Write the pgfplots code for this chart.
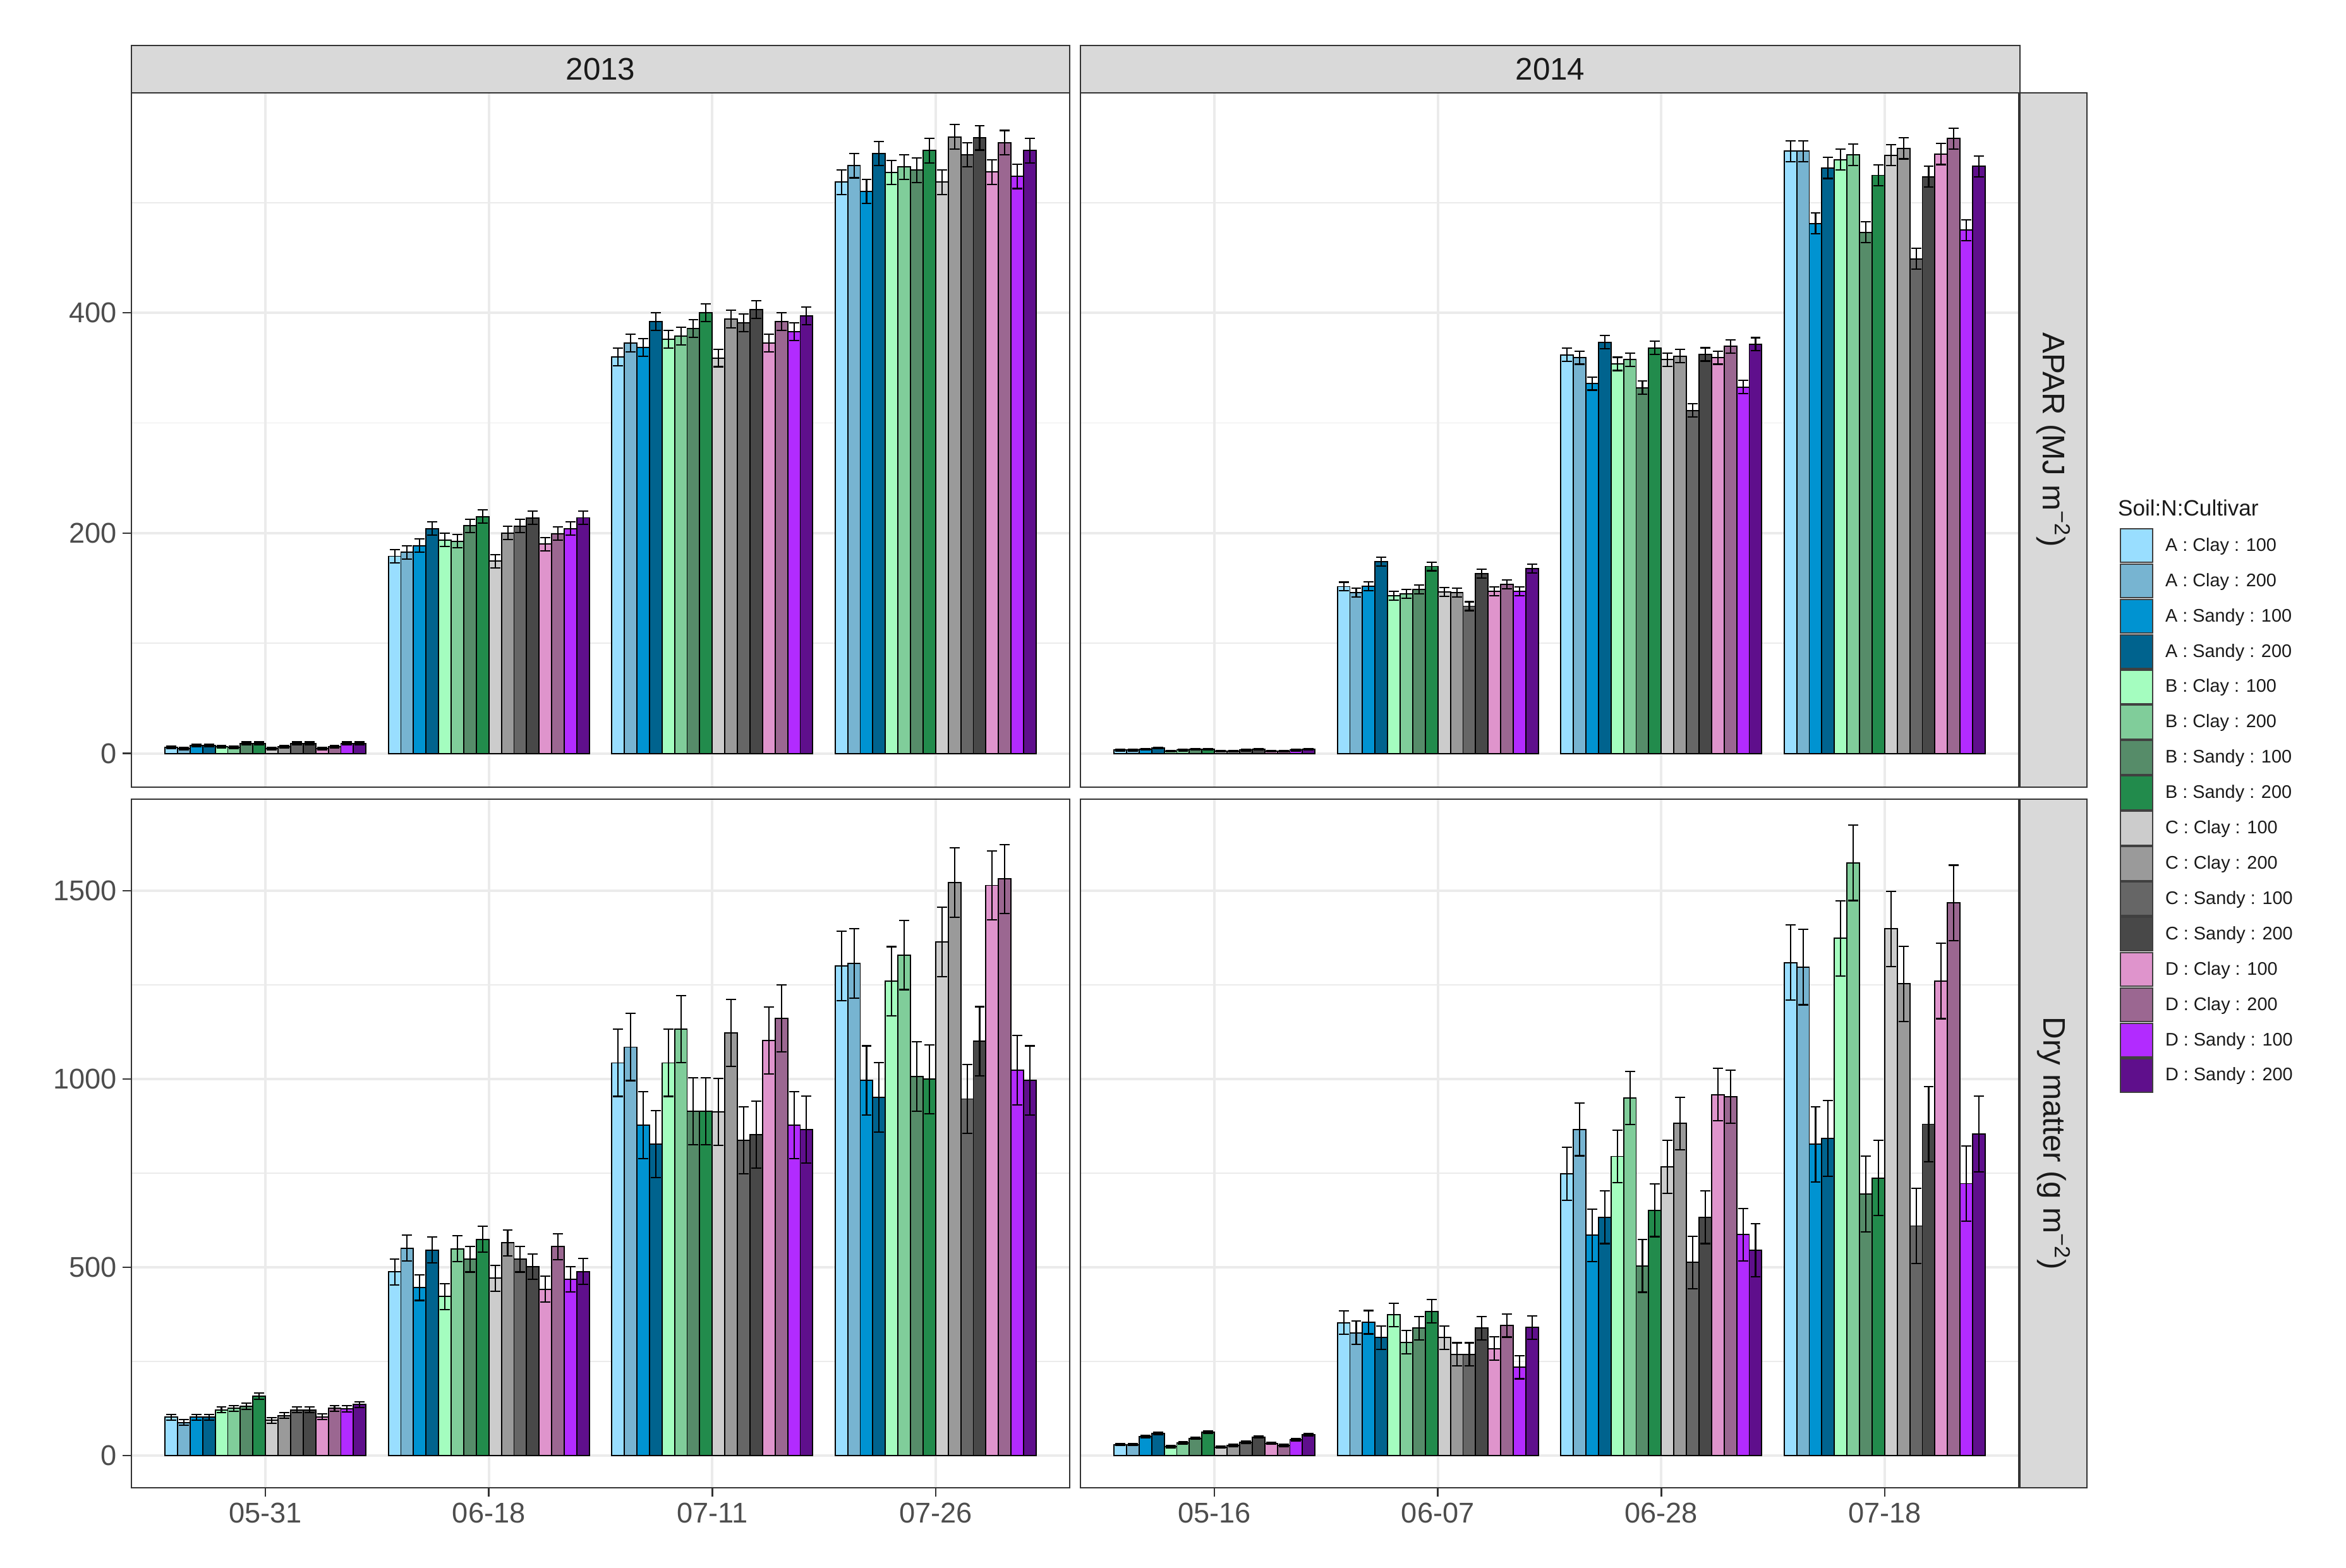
\documentclass[border=0pt]{standalone}
\usepackage{fontspec}
\setmainfont{Liberation Sans}
\usepackage{pgfplots}
\usepackage{pgfplotstable}
\pgfplotsset{compat=1.18}

\definecolor{c1}{HTML}{99DEFF}
\definecolor{c2}{HTML}{77B4D1}
\definecolor{c3}{HTML}{0093D1}
\definecolor{c4}{HTML}{00638E}
\definecolor{c5}{HTML}{A4FDBF}
\definecolor{c6}{HTML}{80CD9A}
\definecolor{c7}{HTML}{568C69}
\definecolor{c8}{HTML}{228B4C}
\definecolor{c9}{HTML}{CCCCCC}
\definecolor{c10}{HTML}{9A9A9A}
\definecolor{c11}{HTML}{666666}
\definecolor{c12}{HTML}{484848}
\definecolor{c13}{HTML}{DF94CC}
\definecolor{c14}{HTML}{9B6791}
\definecolor{c15}{HTML}{B22BFF}
\definecolor{c16}{HTML}{5F0F8C}
\definecolor{grey10}{HTML}{1A1A1A}
\definecolor{grey20}{HTML}{333333}
\definecolor{grey30}{HTML}{4D4D4D}
\definecolor{grey85}{HTML}{D9D9D9}
\definecolor{grey92}{HTML}{EBEBEB}

% APAR 2013
\pgfplotstableread{
g m1 m2 m3 m4 m5 m6 m7 m8 m9 m10 m11 m12 m13 m14 m15 m16 e1 e2 e3 e4 e5 e6 e7 e8 e9 e10 e11 e12 e13 e14 e15 e16
1 5.4 4.4 7.3 7.3 6.3 5.4 9.2 9.2 4.4 6.3 9.2 9.2 4.4 6.3 9.2 9.2 1.2 1.2 1.2 1.2 1.2 1.2 1.2 1.2 1.2 1.2 1.2 1.2 1.2 1.2 1.2 1.2
2 179.0 182.6 188.7 204.0 193.7 192.7 206.7 215.0 174.6 200.0 206.3 213.8 190.0 199.6 204.0 214.0 6 6 6 6 6 6 6 6 6 6 6 6 6 6 6 6
3 359.8 372.3 368.5 392.0 376.0 379.0 385.7 400.0 359.0 394.3 391.0 403.0 372.3 392.0 382.8 397.0 8 8 8 8 8 8 8 8 8 8 8 8 8 8 8 8
4 518.5 533.5 510.0 544.7 527.5 532.3 529.4 547.2 518.5 559.7 543.4 558.7 527.7 554.5 523.7 547.2 11 11 11 11 11 11 11 11 11 11 11 11 11 11 11 11
}\tabTL
% APAR 2014
\pgfplotstableread{
g m1 m2 m3 m4 m5 m6 m7 m8 m9 m10 m11 m12 m13 m14 m15 m16 e1 e2 e3 e4 e5 e6 e7 e8 e9 e10 e11 e12 e13 e14 e15 e16
1 3 3 4 5 2 3 4 4 2 2 3 4 2 2 3 4 0.6 0.6 0.6 0.6 0.6 0.6 0.6 0.6 0.6 0.6 0.6 0.6 0.6 0.6 0.6 0.6
2 151.5 146.0 151.7 174.0 143.3 144.8 149.0 169.8 146.7 146.0 133.7 163.0 147.0 153.3 147.0 168.0 4 4 4 4 4 4 4 4 4 4 4 4 4 4 4 4
3 361.8 359.3 335.8 373.3 353.6 357.4 332.0 368.0 357.4 360.7 311.4 362.2 359.3 369.5 332.5 371.4 6 6 6 6 6 6 6 6 6 6 6 6 6 6 6 6
4 546.7 546.7 481.0 531.4 539.0 543.4 473.0 524.8 542.9 549.2 449.0 523.5 544.0 558.2 475.0 532.9 9.5 9.5 9.5 9.5 9.5 9.5 9.5 9.5 9.5 9.5 9.5 9.5 9.5 9.5 9.5 9.5
}\tabTR
% Dry matter 2013
\pgfplotstableread{
g m1 m2 m3 m4 m5 m6 m7 m8 m9 m10 m11 m12 m13 m14 m15 m16 e1 e2 e3 e4 e5 e6 e7 e8 e9 e10 e11 e12 e13 e14 e15 e16
1 101.8 87.8 101.8 101.8 121.4 125.3 130.9 157.7 93.4 106.3 121.4 121.4 102.9 125.3 124.2 135.3 8 8 8 8 8 8 8 8 8 8 8 8 8 8 8 8
2 487.7 551.0 445.8 545.9 422.3 549.2 521.3 574.4 470.9 564.9 521.3 501.7 441.8 554.8 468.1 488.8 34 34 34 34 34 34 34 34 34 34 34 34 34 34 34 34
3 1042.7 1084.6 877.3 826.9 1042.7 1132.0 914.6 914.6 912.3 1122.0 837.0 851.7 1102.5 1160.7 877.3 865.7 89 89 89 89 89 89 89 89 89 89 89 89 89 89 89 89
4 1300.5 1306.7 996.0 951.0 1259.3 1329.2 1007.0 999.2 1364.0 1521.7 947.0 1100.0 1514.0 1531.0 1023.0 996.0 92 92 92 92 92 92 92 92 92 92 92 92 92 92 92 92
}\tabBL
% Dry matter 2014
\pgfplotstableread{
g m1 m2 m3 m4 m5 m6 m7 m8 m9 m10 m11 m12 m13 m14 m15 m16 e1 e2 e3 e4 e5 e6 e7 e8 e9 e10 e11 e12 e13 e14 e15 e16
1 29.2 29.2 50.6 59.0 23.6 33.7 46.0 61.8 22.5 27.0 34.8 49.4 32.6 27.0 42.1 55.0 3 3 3 3 3 3 3 3 3 3 3 3 3 3 3 3
2 352.8 325.8 354.0 313.5 373.6 300.6 338.2 383.1 313.5 268.5 268.5 338.2 283.7 345.5 234.8 339.9 31 31 31 31 31 31 31 31 31 31 31 31 31 31 31 31
3 748.0 866.0 584.9 632.8 794.3 949.3 503.7 651.3 766.6 881.9 512.9 632.8 958.5 953.0 586.7 545.2 70 70 70 70 70 70 70 70 70 70 70 70 70 70 70 70
4 1309.0 1297.0 826.6 842.2 1373.6 1573.8 694.6 737.0 1398.5 1252.8 609.8 880.0 1260.0 1467.7 722.3 854.0 100 100 100 100 100 100 100 100 100 100 100 100 100 100 100 100
}\tabBR

\pgfplotsset{
  panel/.style={
    scale only axis, width=12.474cm, anchor=north west,
    xmin=0.4, xmax=4.6, xtick={1,2,3,4}, enlargelimits=false,
    axis line style={grey20, line width=0.6pt},
    tick align=outside, major tick length=3.4pt, minor tick length=0pt,
    tick style={grey20, line width=0.6pt},
    xmajorgrids, ymajorgrids, yminorgrids,
    major grid style={grey92, line width=0.9pt},
    minor grid style={grey92, line width=0.45pt},
    tick label style={font=\fontsize{10.8}{12}\selectfont, text=grey30},
    /pgf/number format/assume math mode=true,
    /pgf/number format/1000 sep={},
    xtick pos=bottom, ytick pos=left,
    xticklabel style={inner sep=2pt},
    yticklabel style={inner sep=2pt},
  },
  apar/.style={height=9.2316cm, ymin=-30.6, ymax=599.6, ytick={0,200,400}, minor ytick={100,300,500}},
  dm/.style={height=9.156cm, ymin=-85.6, ymax=1743, ytick={0,500,1000,1500}, minor ytick={250,750,1250}},
  notx/.style={xticklabels={}, xtick style={draw=none}},
  noty/.style={yticklabels={}, ytick style={draw=none}},
}

\newcommand{\bars}[1]{%
  \pgfplotsinvokeforeach{1,...,16}{%
    \addplot[ybar, bar width=0.05625, bar shift=0pt, fill=c##1, draw=black, line width=0.45pt,
      error bars/.cd, y dir=both, y explicit, error mark=|,
      error bar style={black, line width=0.5pt},
      error mark options={black, line width=0.5pt, mark size=1.9pt}]
      table[x expr=\thisrow{g}+(##1-8.5)*0.05625, y=m##1, y error=e##1]{#1};
  }%
}

\begin{document}
\begin{tikzpicture}
\path[use as bounding box] (0,0) rectangle (31.1892cm,-20.8404cm);

\begin{axis}[panel, apar, notx, at={(1.7472cm,-1.2348cm)}]
\bars{\tabTL}
\end{axis}
\begin{axis}[panel, apar, notx, noty, at={(14.364cm,-1.2348cm)}]
\bars{\tabTR}
\end{axis}
\begin{axis}[panel, dm, at={(1.7472cm,-10.626cm)}, xticklabels={05-31,06-18,07-11,07-26}]
\bars{\tabBL}
\end{axis}
\begin{axis}[panel, dm, noty, at={(14.364cm,-10.626cm)}, xticklabels={05-16,06-07,06-28,07-18}]
\bars{\tabBR}
\end{axis}

% strips
\begin{scope}[line width=0.6pt]
\filldraw[fill=grey85, draw=grey20] (1.7472cm,-0.6048cm) rectangle (14.2212cm,-1.2348cm);
\filldraw[fill=grey85, draw=grey20] (14.364cm,-0.6048cm) rectangle (26.8548cm,-1.2348cm);
\filldraw[fill=grey85, draw=grey20] (26.8548cm,-1.2348cm) rectangle (27.7452cm,-10.4664cm);
\filldraw[fill=grey85, draw=grey20] (26.8548cm,-10.626cm) rectangle (27.7452cm,-19.782cm);
\end{scope}
\node[font=\fontsize{11.8}{13}\selectfont, text=grey10] at (7.9842cm,-0.9198cm) {2013};
\node[font=\fontsize{11.8}{13}\selectfont, text=grey10] at (20.6094cm,-0.9198cm) {2014};
\node[font=\fontsize{11.8}{13}\selectfont, text=grey10, rotate=-90] at (27.30cm,-5.8506cm) {APAR (MJ m\textsuperscript{−2})};
\node[font=\fontsize{11.8}{13}\selectfont, text=grey10, rotate=-90] at (27.30cm,-15.204cm) {Dry matter (g m\textsuperscript{−2})};

% legend
\node[anchor=west, font=\fontsize{8.4}{10}\selectfont, text=grey10, inner sep=0pt] at (28.15cm,-6.75cm) {Soil:N:Cultivar};
\foreach \i/\lab in {1/A : Clay : 100, 2/A : Clay : 200, 3/A : Sandy : 100, 4/A : Sandy : 200,
                     5/B : Clay : 100, 6/B : Clay : 200, 7/B : Sandy : 100, 8/B : Sandy : 200,
                     9/C : Clay : 100, 10/C : Clay : 200, 11/C : Sandy : 100, 12/C : Sandy : 200,
                     13/D : Clay : 100, 14/D : Clay : 200, 15/D : Sandy : 100, 16/D : Sandy : 200}{
  \pgfmathsetmacro{\yt}{-7.03-(\i-1)*0.4696}
  \pgfmathsetmacro{\yb}{\yt-0.4496}
  \pgfmathsetmacro{\yc}{\yt-0.2348}
  \filldraw[fill=c\i, draw=black!75, line width=0.5pt] (28.19cm,\yt cm) rectangle (28.62cm,\yb cm);
  \node[anchor=west, font=\fontsize{6.9}{8.5}\selectfont, text=grey10, inner sep=0pt] at (28.78cm,\yc cm) {\lab};
}
\end{tikzpicture}
\end{document}
